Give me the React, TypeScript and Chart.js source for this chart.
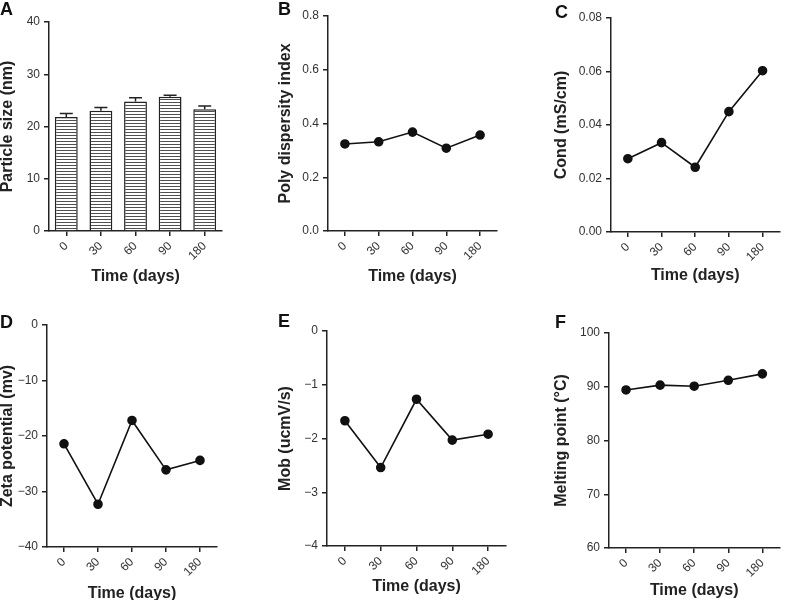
import React, { useEffect, useRef } from 'react';
import { Chart, registerables } from 'chart.js';
Chart.register(...registerables);

const categories = ['0', '30', '60', '90', '180'];
const particleSize = [21.8, 23.0, 24.8, 25.7, 23.3];
const particleSizeErr = [0.7, 0.65, 0.7, 0.3, 0.6];
const pdi = [0.324, 0.332, 0.368, 0.308, 0.357];
const cond = [0.0274, 0.0334, 0.0242, 0.045, 0.0603];
const zeta = [-21.4, -32.3, -17.2, -26.1, -24.4];
const mob = [-1.67, -2.54, -1.27, -2.03, -1.92];
const melting = [89.4, 90.3, 90.1, 91.2, 92.4];

const FONT = '"Liberation Sans", Arial, Helvetica, sans-serif';
const AXIS = '#222';

type PanelSpec = {
  letter: string;
  kind: 'bar' | 'line';
  data: number[];
  err?: number[];
  yTitle: string;
  min: number;
  max: number;
  step: number;
  decimals: number;
  left: number;
  top: number;
  width: number;
  height: number;
  axisW: number;
  padTop: number;
  padRight: number;
  xAxisH: number;
  xTitlePad: number;
  letterX: number;
  letterY: number;
};

const panels: PanelSpec[] = [
  { letter: 'A', kind: 'bar', data: particleSize, err: particleSizeErr, yTitle: 'Particle size (nm)', min: 0, max: 40, step: 10, decimals: 0,
    left: 0, top: 0, width: 235, height: 300, axisW: 49, padTop: 22, padRight: 13, xAxisH: 69, xTitlePad: 15, letterX: 0, letterY: 0 },
  { letter: 'B', kind: 'line', data: pdi, yTitle: 'Poly dispersity index', min: 0, max: 0.8, step: 0.2, decimals: 1,
    left: 278, top: 0, width: 230, height: 300, axisW: 50, padTop: 16, padRight: 11, xAxisH: 69, xTitlePad: 15, letterX: 278, letterY: 0 },
  { letter: 'C', kind: 'line', data: cond, yTitle: 'Cond (mS/cm)', min: 0, max: 0.08, step: 0.02, decimals: 2,
    left: 554, top: 0, width: 231, height: 300, axisW: 57, padTop: 18, padRight: 0, xAxisH: 68, xTitlePad: 16, letterX: 555, letterY: 3 },
  { letter: 'D', kind: 'line', data: zeta, yTitle: 'Zeta potential (mv)', min: -40, max: 0, step: 10, decimals: 0,
    left: 0, top: 300, width: 230, height: 300, axisW: 47, padTop: 25, padRight: 13, xAxisH: 53, xTitlePad: -2, letterX: 0, letterY: 313 },
  { letter: 'E', kind: 'line', data: mob, yTitle: 'Mob (ucmV/s)', min: -4, max: 0, step: 1, decimals: 0,
    left: 278, top: 300, width: 240, height: 300, axisW: 49, padTop: 31, padRight: 12, xAxisH: 54, xTitlePad: 5, letterX: 278, letterY: 312 },
  { letter: 'F', kind: 'line', data: melting, yTitle: 'Melting point (°C)', min: 60, max: 100, step: 10, decimals: 0,
    left: 554, top: 300, width: 231, height: 300, axisW: 55, padTop: 33, padRight: 5, xAxisH: 52, xTitlePad: 1, letterX: 555, letterY: 313 },
];

function makeStripePattern(ctx: CanvasRenderingContext2D) {
  const c = document.createElement('canvas');
  c.width = 4;
  c.height = 3;
  const g = c.getContext('2d')!;
  g.fillStyle = '#ffffff';
  g.fillRect(0, 0, 4, 3);
  g.fillStyle = '#505050';
  g.fillRect(0, 0, 4, 1);
  return ctx.createPattern(c, 'repeat');
}

function Panel({ p }: { p: PanelSpec }) {
  const ref = useRef<HTMLCanvasElement>(null);
  useEffect(() => {
    const canvas = ref.current!;
    const ctx = canvas.getContext('2d')!;
    const errPlugin = {
      id: 'errbars',
      afterDatasetsDraw(chart: any) {
        if (!p.err) return;
        const meta = chart.getDatasetMeta(0);
        const y = chart.scales.y;
        const c = chart.ctx;
        c.save();
        c.strokeStyle = AXIS;
        c.lineWidth = 1.5;
        meta.data.forEach((el: any, i: number) => {
          const v = p.data[i];
          const e = p.err![i];
          const yTop = y.getPixelForValue(v + e);
          const yBase = y.getPixelForValue(v);
          const x = el.x;
          c.beginPath();
          c.moveTo(x, yBase);
          c.lineTo(x, yTop);
          c.moveTo(x - 6.5, yTop);
          c.lineTo(x + 6.5, yTop);
          c.stroke();
        });
        c.restore();
      },
    };
    const dataset: any =
      p.kind === 'bar'
        ? {
            data: p.data,
            backgroundColor: makeStripePattern(ctx),
            borderColor: AXIS,
            borderWidth: 1.5,
            barPercentage: 0.66,
            categoryPercentage: 1,
          }
        : {
            data: p.data,
            borderColor: '#111',
            borderWidth: 1.6,
            pointBackgroundColor: '#111',
            pointBorderColor: '#111',
            pointRadius: 4,
            tension: 0,
            fill: false,
          };
    const chart = new Chart(canvas, {
      type: p.kind,
      data: { labels: categories, datasets: [dataset] },
      options: {
        animation: false,
        responsive: false,
        events: [],
        layout: { padding: { top: p.padTop, right: p.padRight, left: 0, bottom: 0 } },
        plugins: { legend: { display: false }, tooltip: { enabled: false } },
        scales: {
          x: {
            type: 'category',
            offset: true,
            grid: { display: true, offset: false, drawOnChartArea: false, drawTicks: true, tickLength: 5, color: AXIS, lineWidth: 1.5 },
            border: { display: true, color: AXIS, width: 1.5 },
            ticks: { minRotation: 45, maxRotation: 45, padding: 3, color: '#333', font: { family: FONT, size: 12 } },
            title: { display: true, text: 'Time (days)', color: '#222', padding: { top: 0, bottom: p.xTitlePad }, font: { family: FONT, size: 16, weight: 'bold', lineHeight: 1 } },
            afterFit: (s: any) => { s.height = p.xAxisH; },
          },
          y: {
            min: p.min,
            max: p.max,
            grid: { display: true, drawOnChartArea: false, drawTicks: true, tickLength: 5, color: AXIS, lineWidth: 1.5 },
            border: { display: true, color: AXIS, width: 1.5 },
            ticks: {
              stepSize: p.step,
              padding: 4,
              color: '#333',
              font: { family: FONT, size: 12 },
              callback: (v: any) => Number(v).toFixed(p.decimals).replace('-', '\u2212'),
            },
            title: { display: true, text: p.yTitle, color: '#222', padding: { top: 0, bottom: 0 }, font: { family: FONT, size: 16, weight: 'bold', lineHeight: 1 } },
            afterFit: (s: any) => { s.width = p.axisW; },
          },
        },
      } as any,
      plugins: [errPlugin],
    });
    return () => chart.destroy();
  }, []);
  return (
    <>
      <canvas
        ref={ref}
        width={p.width}
        height={p.height}
        style={{ position: 'absolute', left: p.left, top: p.top, width: p.width, height: p.height, display: 'block' }}
      />
      <div
        style={{
          position: 'absolute',
          left: p.letterX,
          top: p.letterY,
          fontFamily: FONT,
          fontWeight: 'bold',
          fontSize: 18,
          lineHeight: '18px',
          color: '#111',
        }}
      >
        {p.letter}
      </div>
    </>
  );
}

export default function App() {
  return (
    <div style={{ position: 'absolute', left: 0, top: 0, width: 785, height: 600, background: '#fff', overflow: 'hidden' }}>
      {panels.map((p) => (
        <Panel key={p.letter} p={p} />
      ))}
    </div>
  );
}
